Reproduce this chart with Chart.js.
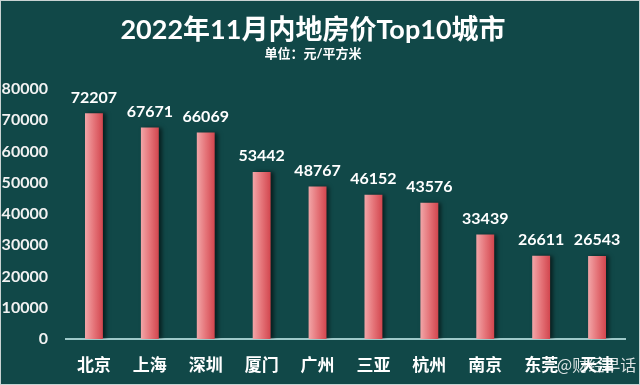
<!DOCTYPE html>
<html>
<head>
<meta charset="utf-8">
<script src="https://cdn.jsdelivr.net/npm/chart.js@4/dist/chart.umd.min.js"></script>
<style>
  html, body { margin: 0; padding: 0; background: #fff; }
  .wrap { position: relative; width: 638px; height: 383px; border: 1px solid #c9d3d3; background: #114848; }
  .mark { position: absolute; left: 556px; top: 351px; color: rgba(255,255,255,0.85); font: 16px "Noto Sans CJK SC", sans-serif; }
</style>
</head>
<body>
<div class="wrap">
  <canvas id="chart" width="638" height="383"></canvas>
  <div class="mark">@财经早话</div>
</div>
<script>
let cities = ["北京", "上海", "深圳", "厦门", "广州", "三亚", "杭州", "南京", "东莞", "天津"];
let prices = [72207, 67671, 66069, 53442, 48767, 46152, 43576, 33439, 26611, 26543];
let yTicks = [0, 10000, 20000, 30000, 40000, 50000, 60000, 70000, 80000];

let font = "Lato, 'Noto Sans CJK SC', sans-serif";

// bar shadow to the right
let shadowPlugin = {
    id: "barShadow",
    beforeDatasetsDraw(chart) {
        let ctx = chart.ctx;
        ctx.save();
        ctx.shadowColor = "rgba(0,0,0,0.55)";
        ctx.shadowOffsetX = 3;
        ctx.shadowOffsetY = 0;
        ctx.shadowBlur = 4;
    },
    afterDatasetsDraw(chart) {
        chart.ctx.restore();
    }
};

// value labels above the bars
let valuePlugin = {
    id: "values",
    afterDatasetsDraw(chart) {
        let ctx = chart.ctx;
        let meta = chart.getDatasetMeta(0);
        ctx.save();
        ctx.fillStyle = "#ffffff";
        ctx.font = "bold 16px " + font;
        ctx.textAlign = "center";
        ctx.textBaseline = "bottom";
        meta.data.forEach((bar, i) => {
            ctx.fillText(prices[i], bar.x, bar.y - 8);
        });
        ctx.restore();
    }
};

new Chart(document.getElementById("chart"), {
    type: "bar",
    data: {
        labels: cities,
        datasets: [{
            data: prices,
            barPercentage: 0.32,
            categoryPercentage: 1,
            backgroundColor: function(c) {
                let xs = c.chart.scales.x;
                let px = xs ? xs.getPixelForValue(c.dataIndex) : NaN;
                if (!isFinite(px)) return "#dc5a60";
                let g = c.chart.ctx.createLinearGradient(px - 9, 0, px + 9, 0);
                g.addColorStop(0, "#f2a6a8");
                g.addColorStop(0.5, "#e57479");
                g.addColorStop(1, "#d2464e");
                return g;
            }
        }]
    },
    options: {
        responsive: false,
        animation: false,
        layout: { padding: { top: 0, right: 14, bottom: 0, left: 0 } },
        plugins: {
            legend: { display: false },
            tooltip: { enabled: false },
            title: {
                display: true,
                text: "2022年11月内地房价Top10城市",
                color: "#ffffff",
                font: { family: font, size: 27, weight: "bold" },
                padding: { top: 13, bottom: 0 }
            },
            subtitle: {
                display: true,
                text: "单位：元/平方米",
                color: "#ffffff",
                font: { family: font, size: 13, weight: "bold" },
                padding: { top: 0, bottom: 27 }
            }
        },
        scales: {
            x: {
                grid: { display: false },
                border: { display: true, color: "#9ec9c9", width: 2 },
                ticks: {
                    color: "#ffffff",
                    font: { family: font, size: 17, weight: "bold" },
                    padding: 8
                },
                afterFit(s) { s.height = 45; }
            },
            y: {
                min: 0,
                max: 80000,
                grid: { display: false },
                border: { display: false },
                afterBuildTicks(s) { s.ticks = yTicks.map(v => ({ value: v })); },
                ticks: {
                    color: "#f2f2f2",
                    font: { family: font, size: 16, weight: "bold" },
                    padding: 10,
                    callback: v => String(v)
                },
                afterFit(s) { s.width = 65; }
            }
        }
    },
    plugins: [shadowPlugin, valuePlugin]
});
</script>
</body>
</html>
